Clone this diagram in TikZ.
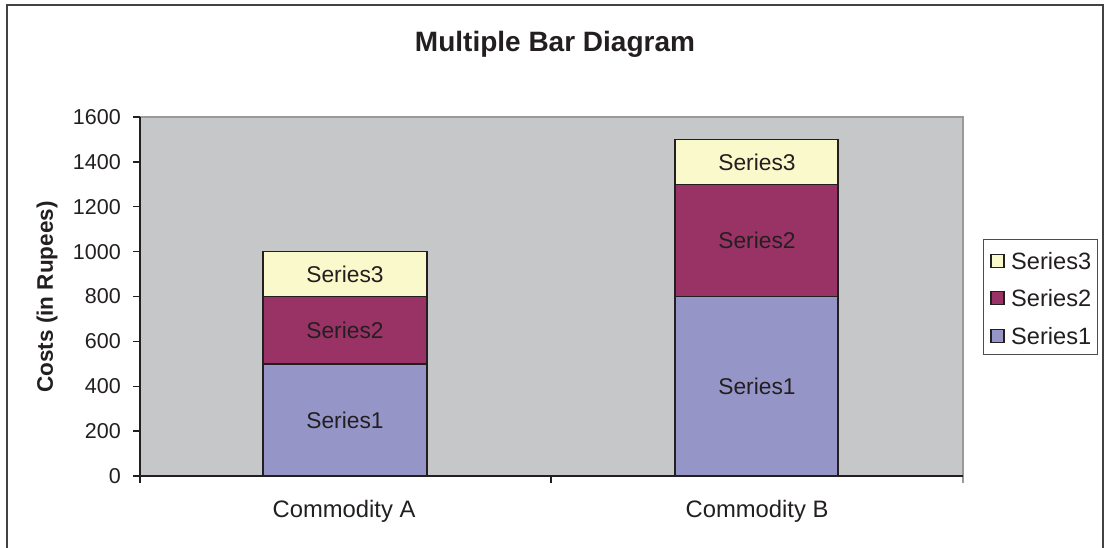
\documentclass[tikz,border=0pt]{standalone}
\usepackage{fontspec}
\setmainfont{Liberation Sans}
\definecolor{sone}{HTML}{9595C8}
\definecolor{stwo}{HTML}{993366}
\definecolor{sthree}{HTML}{FAF9CC}
\definecolor{plotbg}{HTML}{C6C7C9}
\definecolor{ink}{HTML}{231F20}
\definecolor{rim}{HTML}{9A9A9A}
\begin{document}
\begin{tikzpicture}[x=1pt,y=-1pt,
  seg/.style={draw=ink, line width=1.5pt},
  barlabel/.style={font=\fontsize{22.8}{27}\selectfont, text=ink, inner sep=0pt},
  ticklabel/.style={font=\fontsize{21.5}{26}\selectfont, text=ink, anchor=east, inner sep=0pt},
  catlabel/.style={font=\fontsize{23.8}{28}\selectfont, text=ink, inner sep=0pt},
  axis/.style={draw=ink, line width=1.3pt},
  keybox/.style={draw=ink, line width=1.2pt, minimum size=13pt, inner sep=0pt},
  keytext/.style={font=\fontsize{23.6}{28}\selectfont, text=ink, anchor=west, inner sep=0pt}]
\useasboundingbox (0,0) rectangle (1104,548);
\fill[white] (0,0) rectangle (1104,548);
% chart frame (open at the bottom)
\draw[ink!85, line width=2pt] (7,600) -- (7,5) -- (1103,5) -- (1103,600);
% title
\node[font=\bfseries\fontsize{28}{32}\selectfont, text=ink, anchor=base] (title) at (555,52) {Multiple Bar Diagram};
% plot area
\fill[plotbg] (140,117) rectangle (963,476);
\draw[rim, line width=1.3pt] (140,117) -- (963,117) -- (963,483);
% y axis and ticks
\draw[axis] (140,117) -- (140,483);
\draw[axis] (133,476) -- (963,476);
\foreach \v in {0,200,...,1600} {
  \draw[axis] (133,{476-\v*0.224375}) -- (140,{476-\v*0.224375});
  \node[ticklabel] (t\v) at (121,{476-\v*0.224375}) {\v};
}
\draw[axis] (551,476) -- (551,483);
\node[font=\bfseries\fontsize{22.5}{27}\selectfont, text=ink, rotate=90] (ylab) at (47,297) {Costs (in Rupees)};
% stacked bars: Commodity A (500, 300, 200), Commodity B (800, 500, 200)
\draw[seg, fill=sone]   (263,476) rectangle (427,{476-500*0.224375});
\draw[seg, fill=stwo]   (263,{476-500*0.224375}) rectangle (427,{476-800*0.224375});
\draw[seg, fill=sthree] (263,{476-800*0.224375}) rectangle (427,{476-1000*0.224375});
\draw[seg, fill=sone]   (675,476) rectangle (838,{476-800*0.224375});
\draw[seg, fill=stwo]   (675,{476-800*0.224375}) rectangle (838,{476-1300*0.224375});
\draw[seg, fill=sthree] (675,{476-1300*0.224375}) rectangle (838,{476-1500*0.224375});
\node[barlabel] (a1) at (345,{476-250*0.224375}) {Series1};
\node[barlabel] (a2) at (345,{476-650*0.224375}) {Series2};
\node[barlabel] (a3) at (345,{476-900*0.224375}) {Series3};
\node[barlabel] (b1) at (757,{476-400*0.224375}) {Series1};
\node[barlabel] (b2) at (757,{476-1050*0.224375}) {Series2};
\node[barlabel] (b3) at (757,{476-1400*0.224375}) {Series3};
% category labels
\node[catlabel] (ca) at (344,511) {Commodity A};
\node[catlabel] (cb) at (757,511) {Commodity B};
% legend
\draw[ink!80, line width=1pt, fill=white] (983,240) rectangle (1097,354);
\node[keybox, fill=sthree] (k3) at (997.5,261) {};
\node[keybox, fill=stwo]   (k2) at (997.5,298) {};
\node[keybox, fill=sone]   (k1) at (997.5,336) {};
\node[keytext] (l3) at (1011,261) {Series3};
\node[keytext] (l2) at (1011,298) {Series2};
\node[keytext] (l1) at (1011,336) {Series1};
\end{tikzpicture}
\end{document}
